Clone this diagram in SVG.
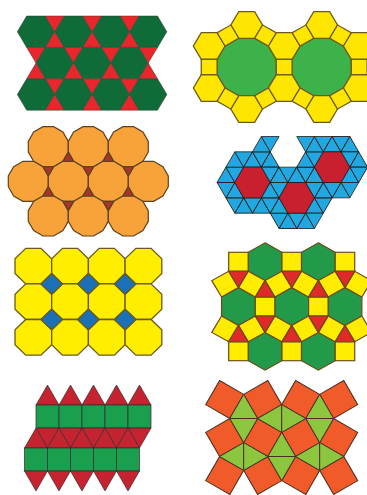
<svg xmlns="http://www.w3.org/2000/svg" width="367" height="495" viewBox="0 0 367 495">
<style>
.t1 .h{fill:#0f6b38}.t1 .t{fill:#e8262b}.t1 *{stroke:#3a3a30;stroke-width:.5}
.t2 *{stroke:#6e5a1c;stroke-width:1.3}.t2 .d{fill:#3db14a}.t2 .y{fill:#ffe600}
.t3 *{stroke:#5d4220;stroke-width:1.2}.t3 .d{fill:#f7a33a}.t3 .t{fill:#a8352b}
.b4{fill:#22a7e0;stroke:#1d1d1b;stroke-width:.8}.r4{fill:#c8202f;stroke:#1d1d1b;stroke-width:.8}
.t5 *{stroke:#6b5a1e;stroke-width:1.3}.t5 .o{fill:#ffee00}.t5 .s{fill:#1b70b8}
.t6 *{stroke:#6b4a1a;stroke-width:1.2}.t6 .h{fill:#229a4a}.t6 .s{fill:#ffec00}.t6 .t{fill:#e02a2a}
.t7 *{stroke:#3a2a2a;stroke-width:.7}.t7 .s{fill:#1a9f4f}.t7 .t{fill:#c52330}
.t8 *{stroke:#4a3020;stroke-width:1}.t8 .s{fill:#f15a29}.t8 .t{fill:#8cc63f}
</style>
<defs>
<polygon id="h1" points="-18.7,0 -9.35,-15.7 9.35,-15.7 18.7,0 9.35,15.7 -9.35,15.7"/>
<polygon id="d1" points="-9.35,-15.7 9.35,-15.7 0,0"/>
<polygon id="u1" points="0,0 9.35,15.7 -9.35,15.7"/>
<polygon id="dd2" points="29.58,7.93 21.65,21.65 7.93,29.58 -7.93,29.58 -21.65,21.65 -29.58,7.93 -29.58,-7.93 -21.65,-21.65 -7.93,-29.58 7.93,-29.58 21.65,-21.65 29.58,-7.93"/>
<polygon id="hx2" points="15.85,0 7.93,13.73 -7.93,13.73 -15.85,0 -7.93,-13.73 7.93,-13.73"/>
<rect id="sq2" x="-7.93" y="-7.93" width="15.85" height="15.85"/>
<polygon id="dd3" points="20,5.36 14.64,14.64 5.36,20 -5.36,20 -14.64,14.64 -20,5.36 -20,-5.36 -14.64,-14.64 -5.36,-20 5.36,-20 14.64,-14.64 20,-5.36"/>
<polygon id="u3" points="0,-6.19 5.36,3.09 -5.36,3.09"/>
<polygon id="d3" points="0,6.19 5.36,-3.09 -5.36,-3.09"/>
<g id="sec4"><polygon class="b4" points="17.7,0 8.85,15.33 26.55,15.33"/><polygon class="b4" points="8.85,15.33 26.55,15.33 17.7,30.66"/><polygon class="b4" points="8.85,15.33 17.7,30.66 0,30.66"/></g>
<g id="shell4"><use href="#sec4"/><use href="#sec4" transform="rotate(60)"/><use href="#sec4" transform="rotate(120)"/><use href="#sec4" transform="rotate(180)"/><use href="#sec4" transform="rotate(240)"/><use href="#sec4" transform="rotate(300)"/><polygon class="r4" points="17.7,0 8.85,15.33 -8.85,15.33 -17.7,0 -8.85,-15.33 8.85,-15.33"/></g>
<polygon id="oc5" points="-7.6,-17.8 7.6,-17.8 18.35,-7.4 18.35,7.4 7.6,17.8 -7.6,17.8 -18.35,7.4 -18.35,-7.4"/>
<polygon id="dm5" points="0,-10.4 10.75,0 0,10.4 -10.75,0"/>
<polygon id="hx6" points="0,-19.5 16.89,-9.75 16.89,9.75 0,19.5 -16.89,9.75 -16.89,-9.75"/>
<rect id="sq6" x="-9.75" y="-9.75" width="19.5" height="19.5"/>
<polygon id="d6" points="0,11.26 9.75,-5.63 -9.75,-5.63"/>
<polygon id="u6" points="0,-11.26 9.75,5.63 -9.75,5.63"/>
<rect id="sq7" x="0" y="0" width="23" height="23"/>
<polygon id="u7" points="0,0 23,0 11.5,-19.9"/>
<polygon id="d7" points="0,0 23,0 11.5,19.9"/>
<rect id="sq8" x="-13.91" y="-13.91" width="27.82" height="27.82"/>
<g id="rh8h"><polygon points="-13.91,0 13.91,0 0,-24.09"/><polygon points="-13.91,0 13.91,0 0,24.09"/></g>
<g id="rh8v"><polygon points="0,-13.91 0,13.91 -24.09,0"/><polygon points="0,-13.91 0,13.91 24.09,0"/></g>
</defs>

<g id="tiling1" class="t1">
<use href="#h1" class="h" x="36" y="31.7"/><use href="#h1" class="h" x="73.4" y="31.7"/><use href="#h1" class="h" x="110.8" y="31.7"/><use href="#h1" class="h" x="148.2" y="31.7"/>
<use href="#d1" class="t" x="54.7" y="31.7"/><use href="#d1" class="t" x="92.1" y="31.7"/><use href="#d1" class="t" x="129.5" y="31.7"/>
<use href="#u1" class="t" x="54.7" y="31.7"/><use href="#u1" class="t" x="92.1" y="31.7"/><use href="#u1" class="t" x="129.5" y="31.7"/>
<use href="#d1" class="t" x="36" y="63.1"/><use href="#d1" class="t" x="73.4" y="63.1"/><use href="#d1" class="t" x="110.8" y="63.1"/><use href="#d1" class="t" x="148.2" y="63.1"/>
<use href="#h1" class="h" x="54.7" y="63.1"/><use href="#h1" class="h" x="92.1" y="63.1"/><use href="#h1" class="h" x="129.5" y="63.1"/>
<use href="#u1" class="t" x="36" y="63.1"/><use href="#u1" class="t" x="73.4" y="63.1"/><use href="#u1" class="t" x="110.8" y="63.1"/><use href="#u1" class="t" x="148.2" y="63.1"/>
<use href="#d1" class="t" x="54.7" y="94.5"/><use href="#d1" class="t" x="92.1" y="94.5"/><use href="#d1" class="t" x="129.5" y="94.5"/>
<use href="#h1" class="h" x="36" y="94.5"/><use href="#h1" class="h" x="73.4" y="94.5"/><use href="#h1" class="h" x="110.8" y="94.5"/><use href="#h1" class="h" x="148.2" y="94.5"/>
<use href="#u1" class="t" x="54.7" y="94.5"/><use href="#u1" class="t" x="92.1" y="94.5"/><use href="#u1" class="t" x="129.5" y="94.5"/>
</g>

<g id="tiling2" class="t2" transform="translate(0,67) scale(1,0.97) translate(0,-68)">
<use href="#dd2" class="d" x="246.7" y="68"/><use href="#dd2" class="d" x="321.7" y="68"/>
<use href="#hx2" class="y" x="284.2" y="46.35"/><use href="#hx2" class="y" x="246.7" y="24.7"/><use href="#hx2" class="y" x="209.2" y="46.35"/><use href="#hx2" class="y" x="209.2" y="89.65"/><use href="#hx2" class="y" x="246.7" y="111.3"/><use href="#hx2" class="y" x="284.2" y="89.65"/>
<use href="#hx2" class="y" x="359.2" y="46.35"/><use href="#hx2" class="y" x="321.7" y="24.7"/><use href="#hx2" class="y" x="321.7" y="111.3"/><use href="#hx2" class="y" x="359.2" y="89.65"/>
<use href="#sq2" class="y" transform="translate(284.2,68)"/><use href="#sq2" class="y" transform="translate(209.2,68)"/><use href="#sq2" class="y" transform="translate(359.2,68)"/>
<use href="#sq2" class="y" transform="translate(265.45,35.52) rotate(30)"/><use href="#sq2" class="y" transform="translate(227.95,35.52) rotate(60)"/><use href="#sq2" class="y" transform="translate(227.95,100.48) rotate(30)"/><use href="#sq2" class="y" transform="translate(265.45,100.48) rotate(60)"/>
<use href="#sq2" class="y" transform="translate(340.45,35.52) rotate(30)"/><use href="#sq2" class="y" transform="translate(302.95,35.52) rotate(60)"/><use href="#sq2" class="y" transform="translate(302.95,100.48) rotate(30)"/><use href="#sq2" class="y" transform="translate(340.45,100.48) rotate(60)"/>
</g>

<g id="tiling3" class="t3">
<use href="#dd3" class="d" x="48.3" y="146.7"/><use href="#dd3" class="d" x="88.3" y="146.7"/><use href="#dd3" class="d" x="128.3" y="146.7"/>
<use href="#dd3" class="d" x="28.3" y="181.34"/><use href="#dd3" class="d" x="68.3" y="181.34"/><use href="#dd3" class="d" x="108.3" y="181.34"/><use href="#dd3" class="d" x="148.3" y="181.34"/>
<use href="#dd3" class="d" x="48.3" y="215.98"/><use href="#dd3" class="d" x="88.3" y="215.98"/><use href="#dd3" class="d" x="128.3" y="215.98"/>
<use href="#d3" class="t" x="48.3" y="169.79"/><use href="#d3" class="t" x="88.3" y="169.79"/><use href="#d3" class="t" x="128.3" y="169.79"/>
<use href="#u3" class="t" x="68.3" y="158.25"/><use href="#u3" class="t" x="108.3" y="158.25"/>
<use href="#u3" class="t" x="48.3" y="192.89"/><use href="#u3" class="t" x="88.3" y="192.89"/><use href="#u3" class="t" x="128.3" y="192.89"/>
<use href="#d3" class="t" x="68.3" y="204.43"/><use href="#d3" class="t" x="108.3" y="204.43"/>
</g>

<g id="tiling4">
<use href="#shell4" transform="translate(252.5,182.5)"/>
<use href="#shell4" transform="translate(296.75,197.83)"/>
<use href="#shell4" transform="translate(332.15,167.17)"/>
<polygon class="b4" points="252.5,151.84 270.2,151.84 261.35,136.52"/>
<polygon class="b4" points="261.35,136.52 279.05,136.52 270.2,151.84"/>
<polygon class="b4" points="296.75,136.52 314.45,136.52 305.6,151.84"/>
</g>

<g id="tiling5" class="t5">
<use href="#oc5" class="o" x="33.35" y="266.1"/><use href="#oc5" class="o" x="70.05" y="266.1"/><use href="#oc5" class="o" x="106.75" y="266.1"/><use href="#oc5" class="o" x="143.45" y="266.1"/>
<use href="#oc5" class="o" x="33.35" y="301.7"/><use href="#oc5" class="o" x="70.05" y="301.7"/><use href="#oc5" class="o" x="106.75" y="301.7"/><use href="#oc5" class="o" x="143.45" y="301.7"/>
<use href="#oc5" class="o" x="33.35" y="337.3"/><use href="#oc5" class="o" x="70.05" y="337.3"/><use href="#oc5" class="o" x="106.75" y="337.3"/><use href="#oc5" class="o" x="143.45" y="337.3"/>
<use href="#dm5" class="s" x="51.7" y="283.9"/><use href="#dm5" class="s" x="88.4" y="283.9"/><use href="#dm5" class="s" x="125.1" y="283.9"/>
<use href="#dm5" class="s" x="51.7" y="319.5"/><use href="#dm5" class="s" x="88.4" y="319.5"/><use href="#dm5" class="s" x="125.1" y="319.5"/>
</g>

<g id="tiling6" class="t6" transform="translate(291.7,306.5) scale(1,0.97)">
<use href="#hx6" class="h" x="-26.64" y="-46.13"/><use href="#hx6" class="h" x="26.64" y="-46.13"/>
<use href="#hx6" class="h" x="-53.27" y="0"/><use href="#hx6" class="h" x="0" y="0"/><use href="#hx6" class="h" x="53.27" y="0"/>
<use href="#hx6" class="h" x="-26.64" y="46.13"/><use href="#hx6" class="h" x="26.64" y="46.13"/>
<use href="#sq6" class="s" x="-53.27" y="-46.13"/><use href="#sq6" class="s" x="0" y="-46.13"/><use href="#sq6" class="s" x="53.27" y="-46.13"/>
<use href="#sq6" class="s" x="-26.64" y="0"/><use href="#sq6" class="s" x="26.64" y="0"/>
<use href="#sq6" class="s" x="-53.27" y="46.13"/><use href="#sq6" class="s" x="0" y="46.13"/><use href="#sq6" class="s" x="53.27" y="46.13"/>
<use href="#sq6" class="s" transform="translate(-66.59,-23.07) rotate(60)"/><use href="#sq6" class="s" transform="translate(-39.95,-23.07) rotate(30)"/><use href="#sq6" class="s" transform="translate(-13.32,-23.07) rotate(60)"/><use href="#sq6" class="s" transform="translate(13.32,-23.07) rotate(30)"/><use href="#sq6" class="s" transform="translate(39.95,-23.07) rotate(60)"/><use href="#sq6" class="s" transform="translate(66.59,-23.07) rotate(30)"/>
<use href="#sq6" class="s" transform="translate(-66.59,23.07) rotate(30)"/><use href="#sq6" class="s" transform="translate(-39.95,23.07) rotate(60)"/><use href="#sq6" class="s" transform="translate(-13.32,23.07) rotate(30)"/><use href="#sq6" class="s" transform="translate(13.32,23.07) rotate(60)"/><use href="#sq6" class="s" transform="translate(39.95,23.07) rotate(30)"/><use href="#sq6" class="s" transform="translate(66.59,23.07) rotate(60)"/>
<use href="#d6" class="t" x="-53.27" y="-30.75"/><use href="#d6" class="t" x="0" y="-30.75"/><use href="#d6" class="t" x="53.27" y="-30.75"/>
<use href="#u6" class="t" x="-26.64" y="-15.38"/><use href="#u6" class="t" x="26.64" y="-15.38"/>
<use href="#d6" class="t" x="-26.64" y="15.38"/><use href="#d6" class="t" x="26.64" y="15.38"/>
<use href="#u6" class="t" x="-53.27" y="30.75"/><use href="#u6" class="t" x="0" y="30.75"/><use href="#u6" class="t" x="53.27" y="30.75"/>
</g>

<g id="tiling7" class="t7">
<use href="#u7" class="t" x="36" y="405"/><use href="#u7" class="t" x="59" y="405"/><use href="#u7" class="t" x="82" y="405"/><use href="#u7" class="t" x="105" y="405"/><use href="#u7" class="t" x="128" y="405"/>
<use href="#sq7" class="s" x="36" y="405"/><use href="#sq7" class="s" x="59" y="405"/><use href="#sq7" class="s" x="82" y="405"/><use href="#sq7" class="s" x="105" y="405"/><use href="#sq7" class="s" x="128" y="405"/>
<use href="#d7" class="t" x="36" y="428"/><use href="#d7" class="t" x="59" y="428"/><use href="#d7" class="t" x="82" y="428"/><use href="#d7" class="t" x="105" y="428"/><use href="#d7" class="t" x="128" y="428"/>
<use href="#u7" class="t" x="24.5" y="448"/><use href="#u7" class="t" x="47.5" y="448"/><use href="#u7" class="t" x="70.5" y="448"/><use href="#u7" class="t" x="93.5" y="448"/><use href="#u7" class="t" x="116.5" y="448"/>
<use href="#sq7" class="s" x="24.5" y="448"/><use href="#sq7" class="s" x="47.5" y="448"/><use href="#sq7" class="s" x="70.5" y="448"/><use href="#sq7" class="s" x="93.5" y="448"/><use href="#sq7" class="s" x="116.5" y="448"/>
<use href="#d7" class="t" x="24.5" y="471"/><use href="#d7" class="t" x="47.5" y="471"/><use href="#d7" class="t" x="70.5" y="471"/><use href="#d7" class="t" x="93.5" y="471"/><use href="#d7" class="t" x="116.5" y="471"/>
</g>

<g id="tiling8" class="t8">
<use href="#sq8" class="s" transform="translate(224.7,399.5) rotate(30)"/><use href="#sq8" class="s" transform="translate(262.7,399.5) rotate(-30)"/><use href="#sq8" class="s" transform="translate(300.7,399.5) rotate(30)"/><use href="#sq8" class="s" transform="translate(338.7,399.5) rotate(-30)"/>
<use href="#sq8" class="s" transform="translate(224.7,437.5) rotate(-30)"/><use href="#sq8" class="s" transform="translate(262.7,437.5) rotate(30)"/><use href="#sq8" class="s" transform="translate(300.7,437.5) rotate(-30)"/><use href="#sq8" class="s" transform="translate(338.7,437.5) rotate(30)"/>
<use href="#sq8" class="s" transform="translate(224.7,475.5) rotate(30)"/><use href="#sq8" class="s" transform="translate(262.7,475.5) rotate(-30)"/><use href="#sq8" class="s" transform="translate(300.7,475.5) rotate(30)"/><use href="#sq8" class="s" transform="translate(338.7,475.5) rotate(-30)"/>
<use href="#rh8h" class="t" x="243.7" y="418.5"/><use href="#rh8v" class="t" x="281.7" y="418.5"/><use href="#rh8h" class="t" x="319.7" y="418.5"/>
<use href="#rh8v" class="t" x="243.7" y="456.5"/><use href="#rh8h" class="t" x="281.7" y="456.5"/><use href="#rh8v" class="t" x="319.7" y="456.5"/>
</g>
</svg>
